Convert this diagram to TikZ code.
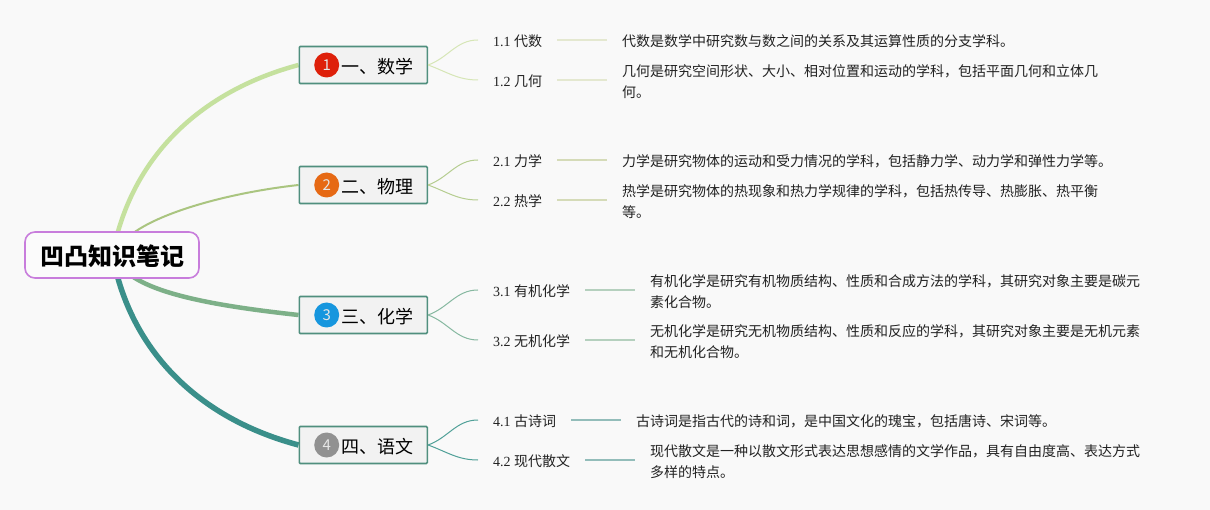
\documentclass[tikz,border=0pt]{standalone}
\usepackage{fontspec}
\setmainfont{Liberation Serif}
\newfontfamily\cjk{Noto Sans CJK SC}
\usepackage{xcolor}
\usepackage{tikz}
\usetikzlibrary{positioning, calc, backgrounds}
\definecolor{pagegrey}{RGB}{249, 249, 249}
\definecolor{rootpurple}{RGB}{200, 125, 220}
\definecolor{boxgreen}{RGB}{80, 143, 126}
\definecolor{inkgrey}{RGB}{34, 34, 34}
\definecolor{branch1}{RGB}{197, 225, 158}
\definecolor{branch2}{RGB}{170, 197, 128}
\definecolor{branch3}{RGB}{125, 176, 136}
\definecolor{branch4}{RGB}{58, 143, 138}
\definecolor{twig1}{RGB}{214, 230, 182}
\definecolor{twig2}{RGB}{181, 205, 144}
\definecolor{twig3}{RGB}{134, 184, 160}
\definecolor{twig4}{RGB}{80, 160, 152}
\definecolor{stem1}{RGB}{228, 232, 208}
\definecolor{stem2}{RGB}{213, 219, 184}
\definecolor{stem3}{RGB}{181, 208, 190}
\definecolor{stem4}{RGB}{147, 189, 186}
\definecolor{dot1}{RGB}{222, 32, 10}
\definecolor{dot2}{RGB}{230, 105, 20}
\definecolor{dot3}{RGB}{22, 150, 222}
\definecolor{dot4}{RGB}{145, 145, 145}

\begin{document}
\begin{tikzpicture}[x=1pt, y=-1pt,
    rootbox/.style={draw=rootpurple, line width=1.6pt, fill=pagegrey!70!white, rounded corners=10pt,
        minimum width=174pt, minimum height=46pt, inner sep=0pt, text=black,
        text height=24pt, text depth=2pt,
        font=\cjk\bfseries\fontsize{24}{24}\selectfont},
    topicbox/.style={draw=boxgreen, line width=1.6pt, fill=pagegrey!97!black, rounded corners=1pt,
        minimum height=37pt, inner xsep=14pt, inner ysep=0pt, text=black,
        text height=18pt, text depth=1.4pt,
        font=\cjk\fontsize{18}{18}\selectfont},
    dotnode/.style={circle, inner sep=0pt, minimum size=25pt, text=white!90!black,
        font=\cjk\fontsize{15}{15}\selectfont},
    leafnode/.style={inner xsep=15pt, inner ysep=0pt, text=inkgrey, yshift=-1pt,
        font=\fontsize{14}{14}\selectfont},
    textnode/.style={inner xsep=14.5pt, inner ysep=0pt, align=left, text=inkgrey, yshift=-0.5pt,
        font=\cjk\fontsize{14}{21}\selectfont}
]
    % Central box
    \node[rootbox] (root) at (112,255) {凹凸知识笔记};

    % The four subjects
    \foreach \i/\yy/\name in {1/65/一、数学, 2/185/二、物理, 3/315/三、化学, 4/445/四、语文} {
        \node[topicbox, anchor=west] (topic\i) at (298.5,\yy) {\hspace*{28pt}\name};
        \node[dotnode, fill=dot\i, right=15.5pt of topic\i.west] (dot\i) {\i};
    }

    % Branches (thick lines), running under the central box
    \begin{scope}[on background layer]
        \fill[pagegrey] (0,0) rectangle (1210,510);
        \draw[branch1, line width=4.5pt] ([xshift=5pt,yshift=-4pt]root.north) .. controls (140,150) and (205,90) .. (topic1.west);
        \draw[branch2, line width=2pt] ([xshift=21pt,yshift=-2pt]root.north) .. controls (165,210) and (235,192) .. (topic2.west);
        \draw[branch3, line width=4.5pt] ([xshift=21pt,yshift=2pt]root.south) .. controls (165,298) and (235,308) .. (topic3.west);
        \draw[branch4, line width=5.5pt] ([xshift=5pt,yshift=4pt]root.south) .. controls (140,360) and (205,420) .. (topic4.west);
    \end{scope}

    % Second level: label, short line, explanation
    \foreach \i/\j/\yy/\lab/\info in {
        1/1/40/{1.1 {\cjk 代数}}/{代数是数学中研究数与数之间的关系及其运算性质的分支学科。},
        1/2/80/{1.2 {\cjk 几何}}/{几何是研究空间形状、大小、相对位置和运动的学科，包括平面几何和立体几\\何。},
        2/1/160/{2.1 {\cjk 力学}}/{力学是研究物体的运动和受力情况的学科，包括静力学、动力学和弹性力学等。},
        2/2/200/{2.2 {\cjk 热学}}/{热学是研究物体的热现象和热力学规律的学科，包括热传导、热膨胀、热平衡\\等。},
        3/1/290/{3.1 {\cjk 有机化学}}/{有机化学是研究有机物质结构、性质和合成方法的学科，其研究对象主要是碳元\\素化合物。},
        3/2/340/{3.2 {\cjk 无机化学}}/{无机化学是研究无机物质结构、性质和反应的学科，其研究对象主要是无机元素\\和无机化合物。},
        4/1/420/{4.1 {\cjk 古诗词}}/{古诗词是指古代的诗和词，是中国文化的瑰宝，包括唐诗、宋词等。},
        4/2/460/{4.2 {\cjk 现代散文}}/{现代散文是一种以散文形式表达思想感情的文学作品，具有自由度高、表达方式\\多样的特点。}} {
        \node[leafnode, anchor=west] (leaf\i\j) at (478,\yy) {\lab};
        \node[textnode, right=50pt of leaf\i\j] (info\i\j) {\info};
        \pgfmathsetmacro{\twigout}{60-40*\j}
        \draw[twig\i, line width=1pt] (topic\i.east) to[out=\twigout, in=180] ([yshift=1pt]leaf\i\j.west);
        \draw[stem\i, line width=2pt] ([yshift=1pt]leaf\i\j.east) -- ([yshift=1.5pt]info\i\j.west);
    }
\end{tikzpicture}
\end{document}
